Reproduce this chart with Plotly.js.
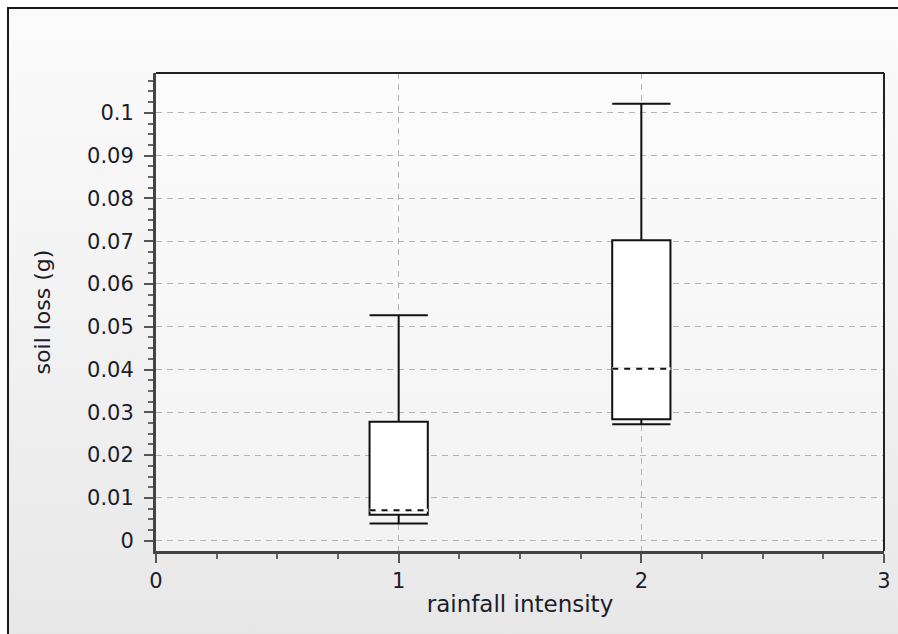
<!DOCTYPE html>
<html>
<head>
<meta charset="utf-8">
<script src="https://cdn.plot.ly/plotly-3.0.1.min.js"></script>
<style>
html,body{margin:0;padding:0;width:898px;height:634px;overflow:hidden;background:#ffffff;}
#frame{position:absolute;left:7px;top:7px;width:900px;height:640px;border-left:2px solid #1a1a1a;border-top:2px solid #1a1a1a;
background:linear-gradient(to bottom,#fbfbfb 0%,#f3f3f3 45%,#e7e7e7 100%);}
#chart{position:absolute;left:0;top:0;width:898px;height:634px;}
</style>
</head>
<body>
<div id="frame"></div>
<div id="chart"></div>
<script>
// Data
var categories = [1, 2];
var lowerWhisker = [0.0040, 0.0272];
var q1Values = [0.0061, 0.0284];
var medianValues = [0.0071, 0.0402];
var q3Values = [0.0278, 0.0702];
var upperWhisker = [0.0527, 0.1021];
var xTickVals = [0, 1, 2, 3];
var yTickVals = [0, 0.01, 0.02, 0.03, 0.04, 0.05, 0.06, 0.07, 0.08, 0.09, 0.1];
var yTickText = ['0', '0.01', '0.02', '0.03', '0.04', '0.05', '0.06', '0.07', '0.08', '0.09', '0.1'];

var boxWidth = 0.24;
var mx = [], my = [];
for (var i = 0; i < categories.length; i++) {
  mx.push(categories[i] - boxWidth / 2, categories[i] + boxWidth / 2, null);
  my.push(medianValues[i], medianValues[i], null);
}

var traces = [
  {
    type: 'box', x: categories, q1: q1Values, median: medianValues, q3: q3Values,
    lowerfence: lowerWhisker, upperfence: upperWhisker,
    width: boxWidth, whiskerwidth: 1, boxpoints: false,
    fillcolor: '#ffffff', line: {color: '#111111', width: 2},
    hoverinfo: 'skip', showlegend: false
  },
  {
    type: 'scatter', mode: 'lines', x: mx, y: my,
    line: {color: '#ffffff', width: 3}, hoverinfo: 'skip', showlegend: false
  },
  {
    type: 'scatter', mode: 'lines', x: mx, y: my,
    line: {color: '#111111', width: 2, dash: '6px,6px'}, hoverinfo: 'skip', showlegend: false
  }
];

var tickFont = {family: 'DejaVu Sans, Verdana, sans-serif', size: 21, color: '#1c1c2a'};
var xTitleFont = {family: 'DejaVu Sans, Verdana, sans-serif', size: 23, color: '#1c1c2a'};
var yTitleFont = {family: 'DejaVu Sans, Verdana, sans-serif', size: 22, color: '#1c1c2a'};

var layout = {
  width: 898, height: 634,
  margin: {l: 156, r: 14, t: 73, b: 83},
  paper_bgcolor: 'rgba(0,0,0,0)',
  plot_bgcolor: 'rgba(255,255,255,0.4)',
  font: tickFont,
  showlegend: false,
  xaxis: {
    range: [0, 3], tickvals: xTickVals, ticktext: xTickVals.map(String),
    ticks: 'outside', ticklen: 9, tickwidth: 2, tickcolor: '#555555',
    ticklabelstandoff: 0,
    minor: {dtick: 0.25, tick0: 0, ticks: 'outside', ticklen: 5, tickwidth: 2, tickcolor: '#666666', showgrid: false},
    showgrid: true, gridcolor: '#b4b4b4', griddash: '6px,5px', gridwidth: 1,
    zeroline: false, showline: true, linecolor: '#444444', linewidth: 3,
    tickfont: tickFont,
    title: {text: 'rainfall intensity', font: xTitleFont, standoff: 4}
  },
  yaxis: {
    range: [-0.0024, 0.1093], tickvals: yTickVals, ticktext: yTickText,
    ticks: 'outside', ticklen: 9, tickwidth: 2, tickcolor: '#555555',
    ticklabelstandoff: 6,
    minor: {dtick: 0.0025, tick0: 0, ticks: 'outside', ticklen: 5, tickwidth: 2, tickcolor: '#666666', showgrid: false},
    showgrid: true, gridcolor: '#b4b4b4', griddash: '6px,5px', gridwidth: 1,
    zeroline: false, showline: true, linecolor: '#444444', linewidth: 3,
    tickfont: tickFont,
    title: {text: 'soil loss (g)', font: yTitleFont, standoff: 31}
  },
  shapes: [
    {type: 'line', xref: 'x domain', yref: 'y domain', x0: 0, x1: 1, y0: 1, y1: 1, line: {color: '#222222', width: 2}},
    {type: 'line', xref: 'x domain', yref: 'y domain', x0: 1, x1: 1, y0: 0, y1: 1, line: {color: '#222222', width: 2}}
  ]
};

Plotly.newPlot('chart', traces, layout, {displayModeBar: false, staticPlot: true});
</script>
</body>
</html>
